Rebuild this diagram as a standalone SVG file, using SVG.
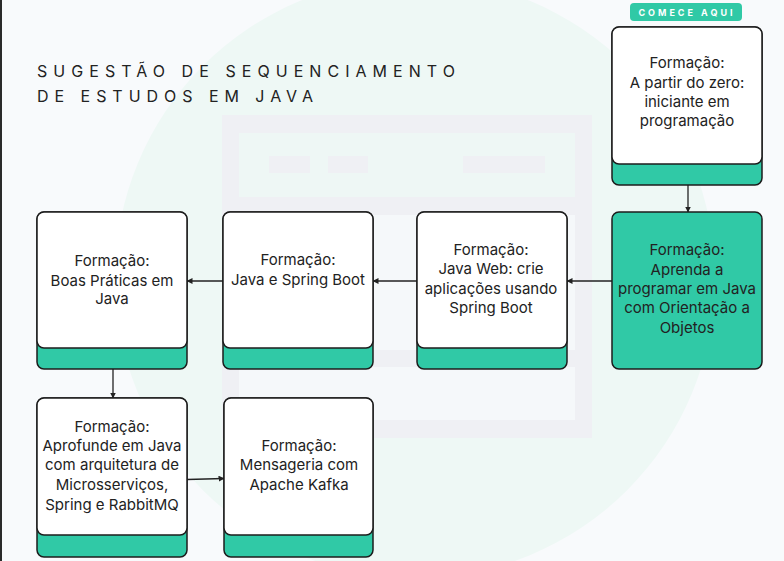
<svg xmlns="http://www.w3.org/2000/svg" width="784" height="561" viewBox="0 0 784 561">
<defs>
<style>
.bg{fill:#f8fafc}
.circ{fill:#eef8f5}
.frame{fill:#eff0f4}
.pan{fill:#eef7f5}
.pan2{fill:#f5f8fa}
.bar{fill:#eff0f4}
.outer{fill:#30c9a6;stroke:#1c1c1c;stroke-width:1.5}
.inner{fill:#ffffff;stroke:#1c1c1c;stroke-width:1.5}
.t{font-family:Inter,"Noto Sans",sans-serif;font-size:15px;fill:#222;text-anchor:middle}
.title{font-family:Inter,"Noto Sans",sans-serif;font-size:16px;fill:#222}
.badge{font-family:Inter,"Noto Sans",sans-serif;font-size:9px;font-weight:bold;fill:#fff;letter-spacing:3px;text-anchor:middle}
.edge{fill:none;stroke:#222;stroke-width:1.3}
</style>
<marker id="arr" viewBox="0 0 6 6" refX="5.5" refY="3" markerWidth="6" markerHeight="6" orient="auto" markerUnits="userSpaceOnUse">
<path d="M0,0 L6,3 L0,6 Z" fill="#222"/>
</marker>
</defs>
<rect class="bg" x="0" y="0" width="784" height="561"/>
<circle class="circ" cx="415" cy="278" r="300"/>
<g id="browser">
<rect class="frame" x="222" y="115" width="370" height="323"/>
<rect class="pan" x="239" y="133" width="336" height="64"/>
<rect class="bar" x="269" y="156" width="41" height="17"/>
<rect class="bar" x="328" y="156" width="40" height="17"/>
<rect class="bar" x="463" y="156" width="82" height="17"/>
<rect class="pan2" x="239" y="215" width="336" height="135"/>
<rect class="pan2" x="239" y="367" width="336" height="53"/>
</g>
<rect x="0" y="0" width="2" height="561" fill="#2a2a2a"/>
<g id="title">
<text class="title" x="37" y="77" textLength="418" lengthAdjust="spacing">SUGESTÃO DE SEQUENCIAMENTO</text>
<text class="title" x="37" y="102" textLength="276" lengthAdjust="spacing">DE ESTUDOS EM JAVA</text>
</g>
<g id="badge">
<rect x="630" y="3" width="112" height="18" rx="4" fill="#30c9a6"/>
<text class="badge" x="687" y="15.5">COMECE AQUI</text>
</g>
<g id="connectors">
<line class="edge" x1="688" y1="185" x2="688" y2="212" marker-end="url(#arr)"/>
<line class="edge" x1="612" y1="281" x2="567" y2="281" marker-end="url(#arr)"/>
<line class="edge" x1="417" y1="281" x2="373" y2="281" marker-end="url(#arr)"/>
<line class="edge" x1="223" y1="281" x2="187" y2="281" marker-end="url(#arr)"/>
<line class="edge" x1="113" y1="369" x2="113" y2="398" marker-end="url(#arr)"/>
<line class="edge" x1="187" y1="479.5" x2="224" y2="478.5" marker-end="url(#arr)"/>
</g>
<g id="n1">
<rect class="outer" x="612" y="27" width="150" height="158" rx="7"/>
<rect class="inner" x="612" y="27" width="150" height="137" rx="7"/>
<text class="t" x="687" y="68">Formação:</text>
<text class="t" x="687" y="88">A partir do zero:</text>
<text class="t" x="687" y="107">iniciante em</text>
<text class="t" x="687" y="126">programação</text>
</g>
<g id="n2">
<rect class="outer" x="612" y="212" width="150" height="157" rx="7"/>
<text class="t" x="687" y="255">Formação:</text>
<text class="t" x="687" y="275">Aprenda a</text>
<text class="t" x="687" y="294">programar em Java</text>
<text class="t" x="687" y="313">com Orientação a</text>
<text class="t" x="687" y="333">Objetos</text>
</g>
<g id="n3">
<rect class="outer" x="417" y="212" width="150" height="157" rx="7"/>
<rect class="inner" x="417" y="212" width="150" height="136" rx="7"/>
<text class="t" x="491" y="255">Formação:</text>
<text class="t" x="491" y="274">Java Web: crie</text>
<text class="t" x="491" y="294">aplicações usando</text>
<text class="t" x="491" y="313">Spring Boot</text>
</g>
<g id="n4">
<rect class="outer" x="223" y="212" width="150" height="157" rx="7"/>
<rect class="inner" x="223" y="212" width="150" height="136" rx="7"/>
<text class="t" x="298" y="265">Formação:</text>
<text class="t" x="298" y="285">Java e Spring Boot</text>
</g>
<g id="n5">
<rect class="outer" x="37" y="212" width="150" height="157" rx="7"/>
<rect class="inner" x="37" y="212" width="150" height="136" rx="7"/>
<text class="t" x="112" y="266">Formação:</text>
<text class="t" x="112" y="286">Boas Práticas em</text>
<text class="t" x="112" y="304">Java</text>
</g>
<g id="n6">
<rect class="outer" x="37" y="398" width="150" height="159" rx="7"/>
<rect class="inner" x="37" y="398" width="150" height="137" rx="7"/>
<text class="t" x="112" y="432">Formação:</text>
<text class="t" x="112" y="451">Aprofunde em Java</text>
<text class="t" x="112" y="470">com arquitetura de</text>
<text class="t" x="112" y="490">Microsserviços,</text>
<text class="t" x="112" y="510">Spring e RabbitMQ</text>
</g>
<g id="n7">
<rect class="outer" x="224" y="398" width="149" height="159" rx="7"/>
<rect class="inner" x="224" y="398" width="149" height="137" rx="7"/>
<text class="t" x="299" y="451">Formação:</text>
<text class="t" x="299" y="470">Mensageria com</text>
<text class="t" x="299" y="490">Apache Kafka</text>
</g>
</svg>
